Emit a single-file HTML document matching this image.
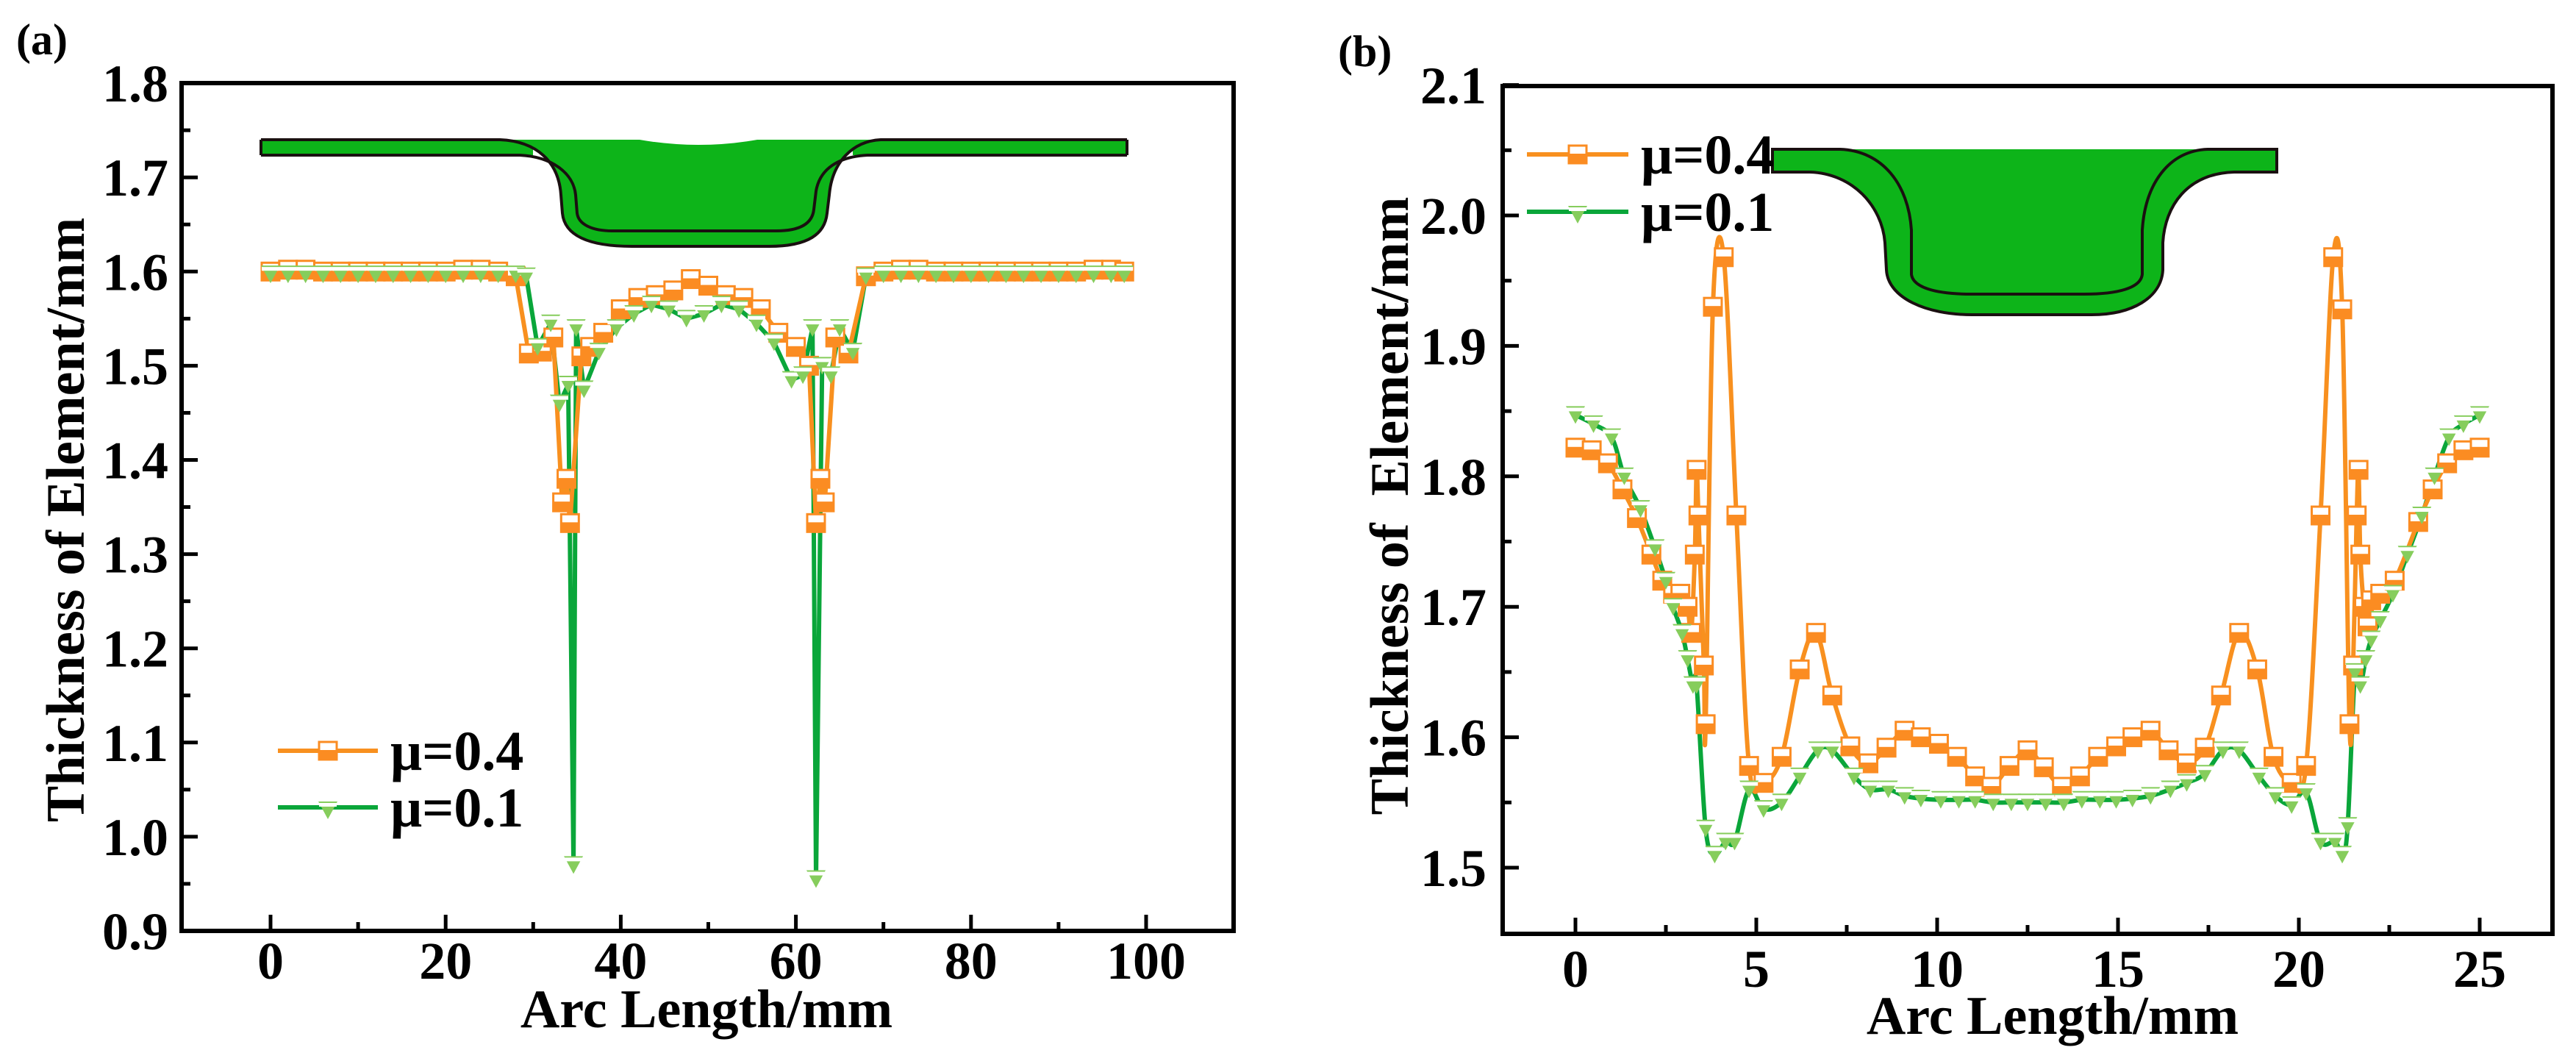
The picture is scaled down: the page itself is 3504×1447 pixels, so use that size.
<!DOCTYPE html>
<html><head><meta charset="utf-8">
<style>
html,body{margin:0;padding:0;background:#fff;}
svg{display:block;}
text{font-family:"Liberation Serif",serif;font-weight:bold;fill:#000;}
</style></head>
<body>
<svg id="fig" width="3504" height="1447" viewBox="0 0 3504 1447" xmlns="http://www.w3.org/2000/svg">
  <rect x="0" y="0" width="3504" height="1447" fill="#fff"/>
  <text x="22" y="74" font-size="60">(a)</text>
  <text x="1820" y="90" font-size="60">(b)</text>

  <!-- inset a -->
  <g>
    <rect x="355" y="190" width="370" height="21" fill="#0db419"/>
    <rect x="1160" y="190" width="373" height="21" fill="#0db419"/>
    <path d="M355,190 L680,190 C730,192 760,220 763,265 L765,290 C768,320 800,335 860,335 L1046,335 C1100,335 1122,318 1125,290 L1128,265 C1132,220 1160,192 1198,190 L1533,190 Z" fill="#0db419"/>
    <path d="M870,190 Q950,204 1030,190 Z" fill="#fff"/>
    <path d="M355,190 L680,190 C730,192 760,220 763,265 L765,290 C768,320 800,335 860,335 L1046,335 C1100,335 1122,318 1125,290 L1128,265 C1132,220 1160,192 1198,190 L1533,190" fill="none" stroke="#1a1010" stroke-width="4"/>
    <path d="M355,211 L707,211 C750,213 780,235 783,265 L785,290 C787,305 805,314 833,314 L1056,314 C1090,314 1105,303 1107,285 L1110,260 C1115,230 1140,213 1180,211 L1533,211" fill="none" stroke="#1a1010" stroke-width="4"/>
    <line x1="355" y1="190" x2="355" y2="211" stroke="#1a1010" stroke-width="4"/>
    <line x1="1533" y1="190" x2="1533" y2="211" stroke="#1a1010" stroke-width="4"/>
  </g>

  <!-- inset b -->
  <g>
    <path d="M2411,203 L3097,203 L3097,234 L3039,234 C2975,236 2945,280 2942,330 L2942,367 C2940,405 2900,428 2845,428 L2682,428 C2620,428 2568,405 2566,367 L2564,330 C2560,280 2520,236 2462,234 L2411,234 Z" fill="#0db419"/>
    <path d="M2411,234 L2462,234 C2520,236 2560,280 2564,330 L2566,367 C2568,405 2620,428 2682,428 L2845,428 C2900,428 2940,405 2942,367 L2942,330 C2945,280 2975,236 3039,234 L3097,234 L3097,203 L3003,203 C2950,205 2918,250 2914,313 L2914,373 C2912,392 2880,400 2835,400 L2682,400 C2630,400 2602,390 2600,373 L2600,313 C2596,250 2560,205 2503,203 L2411,203 Z" fill="none" stroke="#1a1010" stroke-width="4"/>
  </g>

  <g id="plotA"></g>
  <g id="plotB"></g>
</svg>
<script>
// ---------- Panel (a) data ----------
const aOrangeX = [0,2,4,6,8,10,12,14,16,18,20,22,24,26,28,29.5,31,32.3,33.3,33.8,34.2,35.5,36.5,38,40,42,44,46,48,50,52,54,56,58,60,61.5,62.3,62.8,63.3,64.5,66,68,70,72,74,76,78,80,82,84,86,88,90,92,94,96,97.5];
const aOrangeY = [1.60,1.602,1.602,1.60,1.60,1.60,1.60,1.60,1.60,1.60,1.60,1.602,1.602,1.60,1.595,1.513,1.515,1.53,1.355,1.38,1.333,1.51,1.52,1.535,1.56,1.572,1.575,1.58,1.592,1.585,1.575,1.572,1.56,1.535,1.52,1.50,1.333,1.38,1.355,1.53,1.513,1.595,1.60,1.602,1.602,1.60,1.60,1.60,1.60,1.60,1.60,1.60,1.60,1.60,1.602,1.602,1.60];
const aGreenX = [0,2,4,6,8,10,12,14,16,18,20,22,24,26,28,29.2,30.5,32,33,34,34.6,34.9,35.8,37.5,39.5,41.5,43.5,45.5,47.5,49.5,51.5,53.5,55.5,57.5,59.5,60.8,61.9,62.3,63,64,65,66.5,68,70,72,74,76,78,80,82,84,86,88,90,92,94,96,97.5];
const aGreenY = [1.597,1.597,1.597,1.597,1.597,1.597,1.597,1.597,1.597,1.597,1.597,1.597,1.597,1.597,1.597,1.595,1.52,1.545,1.46,1.48,0.97,1.54,1.475,1.515,1.54,1.555,1.565,1.56,1.55,1.555,1.565,1.56,1.545,1.525,1.485,1.49,1.54,0.955,1.50,1.49,1.54,1.515,1.595,1.597,1.597,1.597,1.597,1.597,1.597,1.597,1.597,1.597,1.597,1.597,1.597,1.597,1.597,1.597];
const aXTicks = [0,20,40,60,80,100];
const aXTickLabels = ["0","20","40","60","80","100"];
const aYTicks = [0.9,1.0,1.1,1.2,1.3,1.4,1.5,1.6,1.7,1.8];
const aYTickLabels = ["0.9","1.0","1.1","1.2","1.3","1.4","1.5","1.6","1.7","1.8"];

// ---------- Panel (b) data ----------
const bOrangeX = [0,0.45,0.9,1.3,1.7,2.1,2.4,2.7,2.9,3.1,3.2,3.3,3.35,3.4,3.55,3.6,3.8,4.1,4.45,4.8,5.2,5.7,6.2,6.65,7.1,7.6,8.1,8.6,9.1,9.55,10.05,10.55,11.05,11.5,12,12.5,12.95,13.45,13.95,14.45,14.95,15.4,15.9,16.4,16.9,17.4,17.85,18.35,18.85,19.3,19.8,20.2,20.6,20.95,21.2,21.4,21.5,21.6,21.65,21.7,21.8,21.9,22,22.25,22.65,23.3,23.7,24.1,24.55,25];
const bOrangeY = [1.822,1.82,1.81,1.79,1.768,1.74,1.72,1.71,1.71,1.70,1.68,1.74,1.805,1.77,1.655,1.61,1.93,1.968,1.77,1.578,1.565,1.585,1.652,1.68,1.632,1.593,1.58,1.592,1.605,1.60,1.595,1.585,1.57,1.562,1.578,1.59,1.577,1.562,1.57,1.585,1.593,1.60,1.605,1.59,1.58,1.592,1.632,1.68,1.652,1.585,1.565,1.578,1.77,1.968,1.928,1.61,1.655,1.77,1.805,1.74,1.70,1.685,1.705,1.71,1.72,1.765,1.79,1.81,1.82,1.822];
const bGreenX = [0,0.5,1,1.35,1.8,2.2,2.5,2.7,2.95,3.1,3.25,3.35,3.6,3.85,4.15,4.4,4.8,5.2,5.7,6.2,6.7,7.1,7.7,8.15,8.65,9.1,9.55,10.1,10.6,11.05,11.55,12.05,12.5,13,13.5,14,14.5,14.95,15.4,15.9,16.45,16.9,17.4,17.9,18.35,18.9,19.35,19.8,20.2,20.6,21,21.2,21.35,21.55,21.7,21.85,22,22.25,22.6,23,23.4,23.75,24.15,24.55,25];
const bGreenY = [1.847,1.84,1.83,1.80,1.775,1.745,1.72,1.70,1.68,1.66,1.64,1.64,1.53,1.51,1.52,1.52,1.56,1.545,1.55,1.57,1.59,1.59,1.57,1.56,1.56,1.555,1.553,1.552,1.552,1.552,1.55,1.55,1.55,1.55,1.55,1.552,1.552,1.552,1.553,1.555,1.56,1.565,1.572,1.59,1.59,1.57,1.555,1.548,1.558,1.52,1.52,1.51,1.532,1.65,1.64,1.66,1.675,1.69,1.71,1.74,1.77,1.80,1.83,1.84,1.847];
const bXTicks = [0,5,10,15,20,25];
const bXTickLabels = ["0","5","10","15","20","25"];
const bYTicks = [1.5,1.6,1.7,1.8,1.9,2.0,2.1];
const bYTickLabels = ["1.5","1.6","1.7","1.8","1.9","2.0","2.1"];

const NS = "http://www.w3.org/2000/svg";
const ORANGE_LINE = "#f8901f", ORANGE_MK = "#fb8c22", GREEN_LINE = "#0aa63a", GREEN_MK = "#86cd5c";

function mk(tag, attrs, parent){
  const e = document.createElementNS(NS, tag);
  for (const k in attrs) e.setAttribute(k, attrs[k]);
  parent.appendChild(e);
  return e;
}

function smoothPath(P){
  let d = "M" + P[0][0].toFixed(1) + "," + P[0][1].toFixed(1);
  for (let i = 0; i < P.length-1; i++){
    const p0 = P[Math.max(0,i-1)], p1 = P[i], p2 = P[i+1], p3 = P[Math.min(P.length-1,i+2)];
    const t = 0.5/3;
    const c1 = [p1[0] + (p2[0]-p0[0])*t, p1[1] + (p2[1]-p0[1])*t];
    const c2 = [p2[0] - (p3[0]-p1[0])*t, p2[1] - (p3[1]-p1[1])*t];
    d += " C" + c1[0].toFixed(1)+","+c1[1].toFixed(1)+" "+c2[0].toFixed(1)+","+c2[1].toFixed(1)+" "+p2[0].toFixed(1)+","+p2[1].toFixed(1);
  }
  return d;
}

function drawPanel(g, cfg){
  const X = v => cfg.x0 + (v - cfg.xv0) * cfg.xs;
  const Y = v => cfg.y0 - (v - cfg.yv0) * cfg.ys;
  const fr = mk("rect", {x:cfg.L, y:cfg.T, width:cfg.R-cfg.L, height:cfg.B-cfg.T, fill:"none", stroke:"#000", "stroke-width":6}, g);
  
  
  cfg.xTicks.forEach((v,i)=>{
    const t = mk("line", {x1:X(v), x2:X(v), y1:cfg.B, y2:cfg.B-22, stroke:"#000", "stroke-width":5}, g);
    
    
    const lb = mk("text", {x:X(v), y:cfg.xLabelY, "font-size":72, "text-anchor":"middle"}, g);
    lb.textContent = cfg.xLabels[i];
    
    
    if (i < cfg.xTicks.length-1){
      const m = (v + cfg.xTicks[i+1]) / 2;
      const mt = mk("line", {x1:X(m), x2:X(m), y1:cfg.B, y2:cfg.B-12, stroke:"#000", "stroke-width":5}, g);
      
      
    }
  });
  cfg.yTicks.forEach((v,i)=>{
    const t = mk("line", {x1:cfg.L, x2:cfg.L+22, y1:Y(v), y2:Y(v), stroke:"#000", "stroke-width":5}, g);
    
    
    const lb = mk("text", {x:cfg.yLabelX, y:Y(v)+25, "font-size":72, "text-anchor":"end"}, g);
    lb.textContent = cfg.yLabels[i];
    
    
    if (i < cfg.yTicks.length-1){
      const m = (v + cfg.yTicks[i+1]) / 2;
      const mt = mk("line", {x1:cfg.L, x2:cfg.L+12, y1:Y(m), y2:Y(m), stroke:"#000", "stroke-width":5}, g);
      
      
    }
  });
  const xt = mk("text", {x:cfg.xTitleX, y:cfg.xTitleY, "font-size":74, "text-anchor":"middle"}, g);
  xt.textContent = "Arc Length/mm";
  
  
  const yt = mk("text", {x:0, y:0, "font-size":74, "text-anchor":"middle", transform:"translate("+cfg.yTitleX+","+cfg.yTitleY+") rotate(-90)"}, g);
  yt.textContent = cfg.yTitle;
  
  
  yt.style.whiteSpace = "pre";

  function line(xs, ys, color, name){
    const P = xs.map((x,i)=>[X(x), Y(ys[i])]);
    let el;
    if (cfg.smooth){
      el = mk("path", {d:smoothPath(P), fill:"none", stroke:color, "stroke-width":6, "stroke-linejoin":"round"}, g);
    } else {
      el = mk("polyline", {points:P.map(p=>p[0].toFixed(1)+","+p[1].toFixed(1)).join(" "), fill:"none", stroke:color, "stroke-width":6, "stroke-linejoin":"round"}, g);
    }
    
    
  }
  function square(cx, cy, parent){
    const s = 24;
    const grp = mk("g", {}, parent);
    mk("rect", {x:cx-s/2, y:cy-s/2, width:s, height:s, fill:"#fff", stroke:ORANGE_MK, "stroke-width":3}, grp);
    mk("rect", {x:cx-s/2, y:cy-1, width:s, height:s/2+1, fill:ORANGE_MK}, grp);
    return grp;
  }
  function tri(cx, cy, parent){
    const w = 26, h = 24;
    const grp = mk("g", {}, parent);
    mk("polygon", {points:(cx-w/2)+","+(cy-h/2)+" "+(cx+w/2)+","+(cy-h/2)+" "+cx+","+(cy+h/2), fill:GREEN_MK}, grp);
    mk("rect", {x:cx-w/2+1, y:cy-h/2+2, width:w-2, height:5, fill:"#fff"}, grp);
    return grp;
  }
  line(cfg.gx, cfg.gy, GREEN_LINE, "series-mu-0.1-line");
  line(cfg.ox, cfg.oy, ORANGE_LINE, "series-mu-0.4-line");
  cfg.ox.forEach((x,i)=>{
    const m = square(X(x), Y(cfg.oy[i]), g);
    
    
  });
  cfg.gx.forEach((x,i)=>{
    const m = tri(X(x), Y(cfg.gy[i]), g);
    
    
  });
  const lg = mk("g", {}, g);
  
  
  const l = cfg.legend;
  const e1 = mk("g", {}, lg);
  
  
  mk("line", {x1:l.x1, x2:l.x2, y1:l.y1, y2:l.y1, stroke:ORANGE_LINE, "stroke-width":6}, e1);
  square((l.x1+l.x2)/2, l.y1, e1);
  const t1 = mk("text", {x:l.tx, y:l.y1+26, "font-size":76}, e1);
  t1.textContent = "μ=0.4";
  const e2 = mk("g", {}, lg);
  
  
  mk("line", {x1:l.x1, x2:l.x2, y1:l.y2, y2:l.y2, stroke:GREEN_LINE, "stroke-width":6}, e2);
  tri((l.x1+l.x2)/2, l.y2+4, e2);
  const t2 = mk("text", {x:l.tx, y:l.y2+26, "font-size":76}, e2);
  t2.textContent = "μ=0.1";
}

drawPanel(document.getElementById("plotA"), {
  L:247, R:1678, T:113, B:1266,
  x0:368, xv0:0, xs:11.91, y0:1266, yv0:0.9, ys:1281,
  xTicks:aXTicks, xLabels:aXTickLabels, yTicks:aYTicks, yLabels:aYTickLabels,
  xLabelY:1331, yLabelX:229,
  xTitleX:961, xTitleY:1397, yTitleX:114, yTitleY:707,
  yTitle:"Thickness of Element/mm", smooth:false,
  ox:aOrangeX, oy:aOrangeY, gx:aGreenX, gy:aGreenY,
  legend:{x1:378, x2:514, y1:1021, y2:1098, tx:531}
});
drawPanel(document.getElementById("plotB"), {
  L:2044, R:3472, T:117, B:1270,
  x0:2143, xv0:0, xs:49.2, y0:1180, yv0:1.5, ys:1774,
  xTicks:bXTicks, xLabels:bXTickLabels, yTicks:bYTicks, yLabels:bYTickLabels,
  xLabelY:1342, yLabelX:2022,
  xTitleX:2792, xTitleY:1406, yTitleX:1915, yTitleY:688,
  yTitle:"Thickness of  Element/mm", smooth:true,
  ox:bOrangeX, oy:bOrangeY, gx:bGreenX, gy:bGreenY,
  legend:{x1:2077, x2:2215, y1:210, y2:288, tx:2232}
});
</script>
</body></html>
